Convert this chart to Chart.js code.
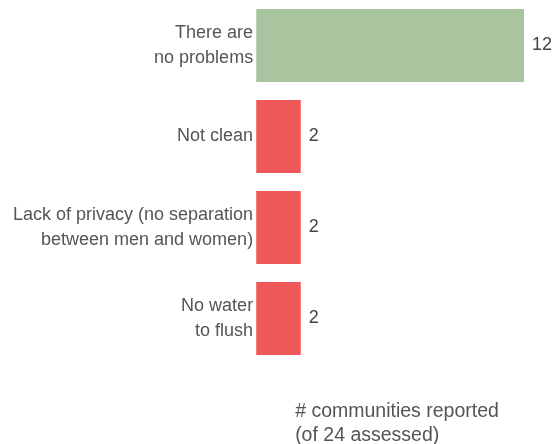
<!DOCTYPE html>
<html>
<head>
<meta charset="utf-8">
<script src="https://cdn.jsdelivr.net/npm/chart.js@4"></script>
<style>
  html, body { margin: 0; padding: 0; background: #fff; }
  #wrap { width: 553px; height: 444px; position: relative; }
</style>
</head>
<body>
<div id="wrap"><canvas id="toiletChart"></canvas></div>
<script>
// Problems reported with toilets
const categories = [
  ['There are', 'no problems'],
  ['Not clean'],
  ['Lack of privacy (no separation', 'between men and women)'],
  ['No water', 'to flush']
];
const counts = [12, 2, 2, 2];
const barColors = ['#a8c5a0', '#ef5858', '#ef5858', '#ef5858'];
const axisTitle = ['# communities reported', '(of 24 assessed)'];

const FONT = "'Liberation Sans', Arial, sans-serif";

// value labels to the right of each bar
const valueLabels = {
  id: 'valueLabels',
  afterDatasetsDraw(chart) {
    const ctx = chart.ctx;
    const meta = chart.getDatasetMeta(0);
    ctx.save();
    ctx.font = '18px ' + FONT;
    ctx.fillStyle = '#444';
    ctx.textAlign = 'left';
    ctx.textBaseline = 'middle';
    meta.data.forEach((bar, i) => {
      ctx.fillText(String(counts[i]), bar.x + 8, bar.y);
    });
    ctx.restore();
  }
};

// left-aligned x axis caption under the bars
const xCaption = {
  id: 'xCaption',
  afterDraw(chart) {
    const ctx = chart.ctx;
    const area = chart.chartArea;
    ctx.save();
    ctx.font = '19.5px ' + FONT;
    ctx.fillStyle = '#555';
    ctx.textAlign = 'left';
    ctx.textBaseline = 'alphabetic';
    axisTitle.forEach((line, i) => {
      ctx.fillText(line, area.left + 39, area.bottom + 53 + i * 24);
    });
    ctx.restore();
  }
};

new Chart(document.getElementById('toiletChart'), {
  type: 'bar',
  data: {
    labels: categories,
    datasets: [{
      data: counts,
      backgroundColor: barColors,
      borderWidth: 0,
      barPercentage: 0.8,
      categoryPercentage: 1.0
    }]
  },
  options: {
    indexAxis: 'y',
    responsive: true,
    maintainAspectRatio: false,
    animation: false,
    layout: {
      padding: { top: 0, right: 29, bottom: 80, left: 10 }
    },
    plugins: {
      legend: { display: false },
      tooltip: { enabled: false }
    },
    scales: {
      x: {
        display: false,
        min: 0,
        max: 12
      },
      y: {
        grid: { display: false, drawTicks: false },
        border: { display: false },
        ticks: {
          color: '#555',
          padding: 3,
          font: { family: FONT, size: 18, lineHeight: 1.35 }
        },
        // let the bars run to the top edge
        afterFit(scale) {
          scale.paddingTop = 0;
          scale.paddingBottom = 0;
        }
      }
    }
  },
  plugins: [valueLabels, xCaption]
});
</script>
</body>
</html>
